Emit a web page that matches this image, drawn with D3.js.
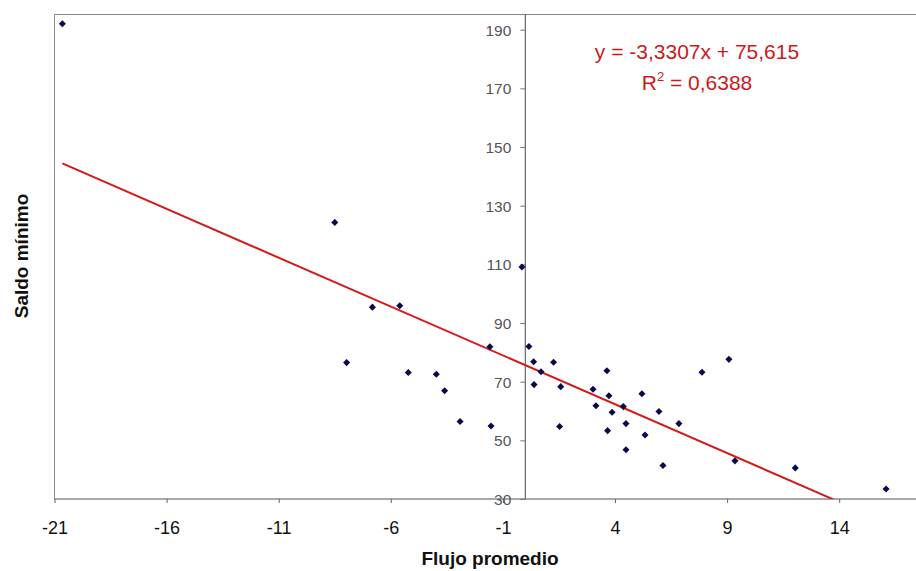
<!DOCTYPE html>
<html>
<head>
<meta charset="utf-8">
<script src="https://cdn.jsdelivr.net/npm/d3@7"></script>
<style>
  html, body { margin: 0; padding: 0; background: #fff; }
  svg { display: block; font-family: Arial, "Liberation Sans", sans-serif; }
</style>
</head>
<body>
<svg id="chart" width="916" height="571"></svg>
<script>
// ---- Data ----
const flujo = [-20.65, -8.50, -7.97, -6.82, -5.60, -5.22, -3.97, -3.60, -2.91, -1.53,
               -1.58, -0.15, 0.16, 0.37, 0.39, 0.70, 1.26, 1.58, 1.53, 3.02,
               3.15, 3.64, 3.73, 3.87, 3.67, 4.37, 4.49, 4.49, 5.20, 5.34,
               5.96, 6.14, 6.85, 7.88, 9.08, 9.35, 12.04, 16.09];
const saldo = [192.0, 124.3, 76.5, 95.4, 95.9, 73.1, 72.5, 66.9, 56.4, 54.9,
               81.9, 109.1, 82.0, 76.8, 69.0, 73.4, 76.6, 68.3, 54.7, 67.4,
               61.8, 73.7, 65.2, 59.6, 53.3, 61.5, 55.7, 46.8, 65.9, 51.8,
               59.8, 41.4, 55.7, 73.2, 77.6, 43.0, 40.6, 33.4];
const xTicks = [-21, -16, -11, -6, -1, 4, 9, 14];
const yTicks = [30, 50, 70, 90, 110, 130, 150, 170, 190];
const slope = -3.3307;
const intercept = 75.615;
const eqLabel = "y = -3,3307x + 75,615";
const r2Value = "0,6388";
const xTitle = "Flujo promedio";
const yTitle = "Saldo mínimo";

(function () {
// ---- Layout ----
const svg = d3.select("#chart");
const plotLeft = 54.5, plotTop = 15, plotBottom = 499;
const pxPerX = 22.42;
const x = d3.scaleLinear().domain([-21, 17.5]).range([plotLeft, plotLeft + 38.5 * pxPerX]);
const y = d3.scaleLinear().domain([30, 195]).range([plotBottom, plotTop]);

// plot frame (top and left gray lines)
svg.append("line").attr("x1", plotLeft).attr("x2", 916).attr("y1", 14.5).attr("y2", 14.5)
  .attr("stroke", "#888").attr("stroke-width", 1);
svg.append("line").attr("x1", plotLeft).attr("x2", plotLeft).attr("y1", 14.5).attr("y2", plotBottom)
  .attr("stroke", "#888").attr("stroke-width", 1);

// clip for plot area
svg.append("defs").append("clipPath").attr("id", "plotclip")
  .append("rect").attr("x", plotLeft).attr("y", 14.5).attr("width", 916 - plotLeft).attr("height", plotBottom - 14.5);

// X axis at y = 30
const xAxis = d3.axisBottom(x).tickValues(xTicks).tickFormat(d => String(d))
  .tickSize(4).tickSizeOuter(0);
const gx = svg.append("g").attr("transform", `translate(0,${y(30)})`).call(xAxis);
gx.select(".domain").attr("stroke", "#555").attr("stroke-width", 1.2).attr("d", `M${plotLeft},0H916`);
gx.selectAll(".tick line").attr("stroke", "#666");
gx.selectAll(".tick text").attr("font-size", 18).attr("fill", "#111").attr("dy", null).attr("y", 35);

// Y axis at x = 0
const yAxis = d3.axisLeft(y).tickValues(yTicks).tickFormat(d => String(d))
  .tickSize(5).tickSizeOuter(0).tickPadding(9);
const gy = svg.append("g").attr("transform", `translate(${x(0)},0)`).call(yAxis);
gy.select(".domain").attr("stroke", "#666").attr("stroke-width", 1.2).attr("d", `M0,14.5V${plotBottom}`);
gy.selectAll(".tick line").attr("stroke", "#777");
gy.selectAll(".tick text").attr("font-size", 15.5).attr("fill", "#555").attr("dy", "0.36em");

// Trend line
const xs = d3.extent(flujo);
svg.append("g").attr("clip-path", "url(#plotclip)")
  .append("line")
  .attr("x1", x(xs[0])).attr("y1", y(slope * xs[0] + intercept))
  .attr("x2", x(xs[1])).attr("y2", y(slope * xs[1] + intercept))
  .attr("stroke", "#d41a1a").attr("stroke-width", 2);

// Points (diamonds)
const diamond = d3.symbol().type(d3.symbolSquare).size(25);
svg.append("g").selectAll("path").data(flujo.map((v, i) => [v, saldo[i]])).join("path")
  .attr("d", diamond)
  .attr("transform", d => `translate(${x(d[0])},${y(d[1])}) rotate(45)`)
  .attr("fill", "#0a0a4a");

// Equation labels
svg.append("text").attr("x", 697).attr("y", 59).attr("text-anchor", "middle")
  .attr("font-size", 21).attr("fill", "#cc1a1a").text(eqLabel);
const r2 = svg.append("text").attr("x", 697).attr("y", 90).attr("text-anchor", "middle")
  .attr("font-size", 21).attr("fill", "#cc1a1a");
r2.append("tspan").text("R");
r2.append("tspan").attr("font-size", 13).attr("dy", -9).text("2");
r2.append("tspan").attr("dy", 9).text(" = " + r2Value);

// Axis titles
svg.append("text").attr("x", 490).attr("y", 565).attr("text-anchor", "middle")
  .attr("font-size", 19).attr("font-weight", "bold").attr("fill", "#111").text(xTitle);
svg.append("text").attr("transform", "translate(28,256) rotate(-90)").attr("text-anchor", "middle")
  .attr("font-size", 19).attr("font-weight", "bold").attr("fill", "#111").text(yTitle);
})();
</script>
</body>
</html>
